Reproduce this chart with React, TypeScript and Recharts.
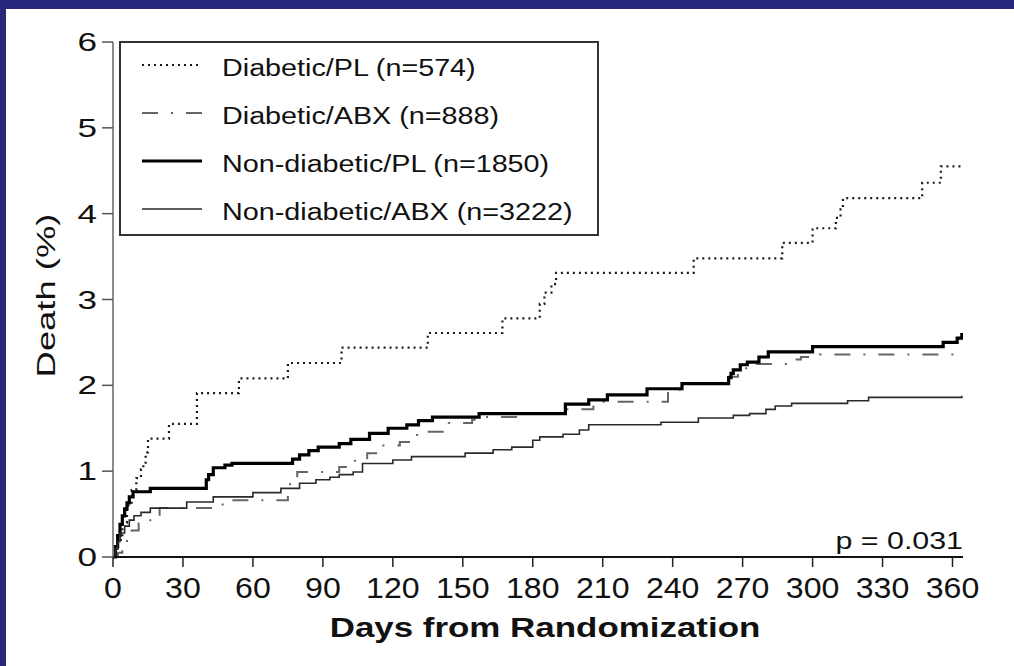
import { LineChart, Line, XAxis, YAxis, Legend, Label } from 'recharts';

const X_TICKS = [0, 30, 60, 90, 120, 150, 180, 210, 240, 270, 300, 330, 360];
const Y_TICKS = [0, 1, 2, 3, 4, 5, 6];

const SERIES_NAMES = [
  'Diabetic/PL (n=574)',
  'Diabetic/ABX (n=888)',
  'Non-diabetic/PL (n=1850)',
  'Non-diabetic/ABX (n=3222)',
];

// Kaplan-Meier style cumulative death % (day, %)
const DIAB_PL_DAYS = [0, 2, 4, 6, 8, 10, 12, 13, 14, 15, 24, 36, 54, 75, 98, 135, 167, 183, 185, 188, 190, 249, 287, 300, 310, 312, 313, 347, 355, 364.5];
const DIAB_PL_PCT = [0, 0.2, 0.4, 0.6, 0.78, 0.92, 1.02, 1.1, 1.22, 1.38, 1.55, 1.91, 2.08, 2.26, 2.44, 2.61, 2.78, 2.95, 3.08, 3.18, 3.31, 3.48, 3.66, 3.83, 3.95, 4.05, 4.18, 4.36, 4.55, 4.55];

const DIAB_ABX_DAYS = [0, 2, 4, 6, 8, 11, 16, 20, 47, 75, 76, 79, 97, 103, 109, 114, 123, 129, 131, 144, 154, 157, 175, 194, 206, 238, 244, 264, 268, 273, 290, 295, 303, 364.5];
const DIAB_ABX_PCT = [0, 0.05, 0.12, 0.22, 0.31, 0.39, 0.45, 0.57, 0.66, 0.76, 0.85, 0.99, 1.05, 1.12, 1.21, 1.3, 1.34, 1.42, 1.46, 1.56, 1.6, 1.63, 1.67, 1.72, 1.81, 1.95, 2.02, 2.1, 2.2, 2.25, 2.3, 2.33, 2.36, 2.36];

const NONDIAB_PL_DAYS = [0, 1, 2, 3, 4, 5, 6, 7, 8.6, 16, 40, 41, 43, 48, 51, 77, 80, 84, 88, 97, 102, 110, 118, 126, 131, 137, 157, 194, 204, 212, 229, 244, 264, 265, 266, 269, 272, 277, 281, 300, 356, 362, 364];
const NONDIAB_PL_PCT = [0, 0.12, 0.25, 0.38, 0.48, 0.56, 0.63, 0.7, 0.76, 0.8, 0.9, 0.96, 1.04, 1.07, 1.09, 1.14, 1.19, 1.24, 1.28, 1.32, 1.37, 1.44, 1.5, 1.54, 1.59, 1.63, 1.67, 1.78, 1.83, 1.89, 1.96, 2.02, 2.09, 2.14, 2.18, 2.24, 2.27, 2.33, 2.39, 2.45, 2.5, 2.55, 2.61];

const NONDIAB_ABX_DAYS = [0, 1, 2, 3, 5, 7, 9, 12, 16, 31.6, 43, 60, 72, 80, 87, 93, 97, 103, 107, 120, 128, 151, 163, 171, 180, 183, 193, 200, 204, 235, 251, 266, 273, 280, 284, 291, 315, 324, 364];
const NONDIAB_ABX_PCT = [0, 0.1, 0.18, 0.28, 0.36, 0.43, 0.48, 0.52, 0.57, 0.64, 0.7, 0.75, 0.8, 0.86, 0.9, 0.93, 0.96, 0.99, 1.09, 1.13, 1.17, 1.21, 1.25, 1.28, 1.36, 1.4, 1.43, 1.48, 1.54, 1.57, 1.62, 1.65, 1.67, 1.72, 1.76, 1.79, 1.82, 1.86, 1.88];

const P_VALUE = 'p = 0.031';

const FONT = '"Liberation Sans", Arial, Helvetica, sans-serif';

const STYLES = [
  { stroke: '#1a1a1a', width: 2.2, dash: '2 4' },
  { stroke: '#666', width: 2, dash: '16 13 2 13' },
  { stroke: '#000', width: 3.2, dash: undefined },
  { stroke: '#2a2a2a', width: 1.6, dash: undefined },
];

const toRows = (days: number[], pct: number[]) => days.map((d, i) => ({ day: d, value: pct[i] }));

const SERIES = [
  toRows(DIAB_PL_DAYS, DIAB_PL_PCT),
  toRows(DIAB_ABX_DAYS, DIAB_ABX_PCT),
  toRows(NONDIAB_PL_DAYS, NONDIAB_PL_PCT),
  toRows(NONDIAB_ABX_DAYS, NONDIAB_ABX_PCT),
];

// the original lettering is wider than Arial, so stretch it horizontally
function WideText({ x, y, sx, size, anchor = 'start', weight = 'normal', rotate = 0, children }: any) {
  const tr = `translate(${x},${y})${rotate ? ` rotate(${rotate})` : ''} scale(${sx},1)`;
  return (
    <text transform={tr} x={0} y={0} textAnchor={anchor} fontSize={size} fontFamily={FONT} fontWeight={weight} fill="#111">
      {children}
    </text>
  );
}

const renderXTick = (props: any) => (
  <WideText x={props.x} y={props.y + 29} sx={1.07} size={30} anchor="middle">
    {props.payload.value}
  </WideText>
);

const renderYTick = (props: any) => (
  <WideText x={props.x - 3} y={props.y + 9} sx={1.35} size={26} anchor="end">
    {props.payload.value}
  </WideText>
);

const renderXLabel = (props: any) => {
  const vb = props.viewBox;
  return (
    <g>
      <WideText x={vb.x + vb.width / 2 + 7} y={vb.y + 80} sx={1.27} size={27.5} anchor="middle" weight="bold">
        Days from Randomization
      </WideText>
      <WideText x={vb.x + vb.width} y={vb.y - 8} sx={1.24} size={24.5} anchor="end">
        {P_VALUE}
      </WideText>
    </g>
  );
};

const renderYLabel = (props: any) => {
  const vb = props.viewBox;
  return (
    <WideText x={vb.x + 42} y={vb.y + vb.height / 2 - 4} sx={1.4} size={26} anchor="middle" rotate={-90}>
      Death (%)
    </WideText>
  );
};

const renderLegend = () => (
  <svg width={480} height={195} style={{ display: 'block' }}>
    <rect x={1} y={1} width={478} height={193} fill="#fff" stroke="#333" strokeWidth={2} />
    {SERIES_NAMES.map((name, i) => {
      const s = STYLES[i];
      const cy = 24 + i * 48;
      return (
        <g key={name}>
          <line x1={23} x2={83} y1={cy} y2={cy} stroke={s.stroke} strokeWidth={s.width} strokeDasharray={s.dash} />
          <WideText x={103} y={cy + 11} sx={1.25} size={23}>
            {name}
          </WideText>
        </g>
      );
    })}
  </svg>
);

export default function App() {
  return (
    <div style={{ position: 'absolute', left: 0, top: 0, width: 1014, height: 666 }}>
      <div
        style={{
          position: 'absolute',
          left: 0,
          top: 0,
          width: 1014,
          height: 666,
          background: '#fff',
          borderTop: '9px solid #2a287d',
          borderLeft: '6px solid #2a287d',
          boxSizing: 'border-box',
        }}
      />
      <div style={{ position: 'absolute', left: 0, top: 0 }}>
        <LineChart width={1014} height={666} margin={{ top: 42, right: 51, bottom: 49, left: 13 }}>
          <XAxis
            type="number"
            dataKey="day"
            domain={[0, 364.5]}
            ticks={X_TICKS}
            interval={0}
            allowDataOverflow
            height={60}
            tickSize={10}
            tickMargin={2}
            axisLine={{ stroke: '#111', strokeWidth: 2 }}
            tickLine={{ stroke: '#222', strokeWidth: 1.5 }}
            tick={renderXTick}
          >
            <Label content={renderXLabel} />
          </XAxis>
          <YAxis
            type="number"
            domain={[0, 6]}
            ticks={Y_TICKS}
            interval={0}
            width={100}
            tickSize={11}
            tickMargin={2}
            axisLine={{ stroke: '#666', strokeWidth: 1.5 }}
            tickLine={{ stroke: '#555', strokeWidth: 1.5 }}
            tick={renderYTick}
          >
            <Label content={renderYLabel} />
          </YAxis>
          <Legend
            layout="vertical"
            align="center"
            verticalAlign="middle"
            wrapperStyle={{ left: 119, top: 41, width: 480, height: 195 }}
            content={renderLegend}
          />
          {SERIES.map((rows, i) => (
            <Line
              key={SERIES_NAMES[i]}
              data={rows}
              dataKey="value"
              name={SERIES_NAMES[i]}
              type="stepAfter"
              stroke={STYLES[i].stroke}
              strokeWidth={STYLES[i].width}
              strokeDasharray={STYLES[i].dash}
              dot={false}
              activeDot={false}
              isAnimationActive={false}
            />
          ))}
        </LineChart>
      </div>
    </div>
  );
}
